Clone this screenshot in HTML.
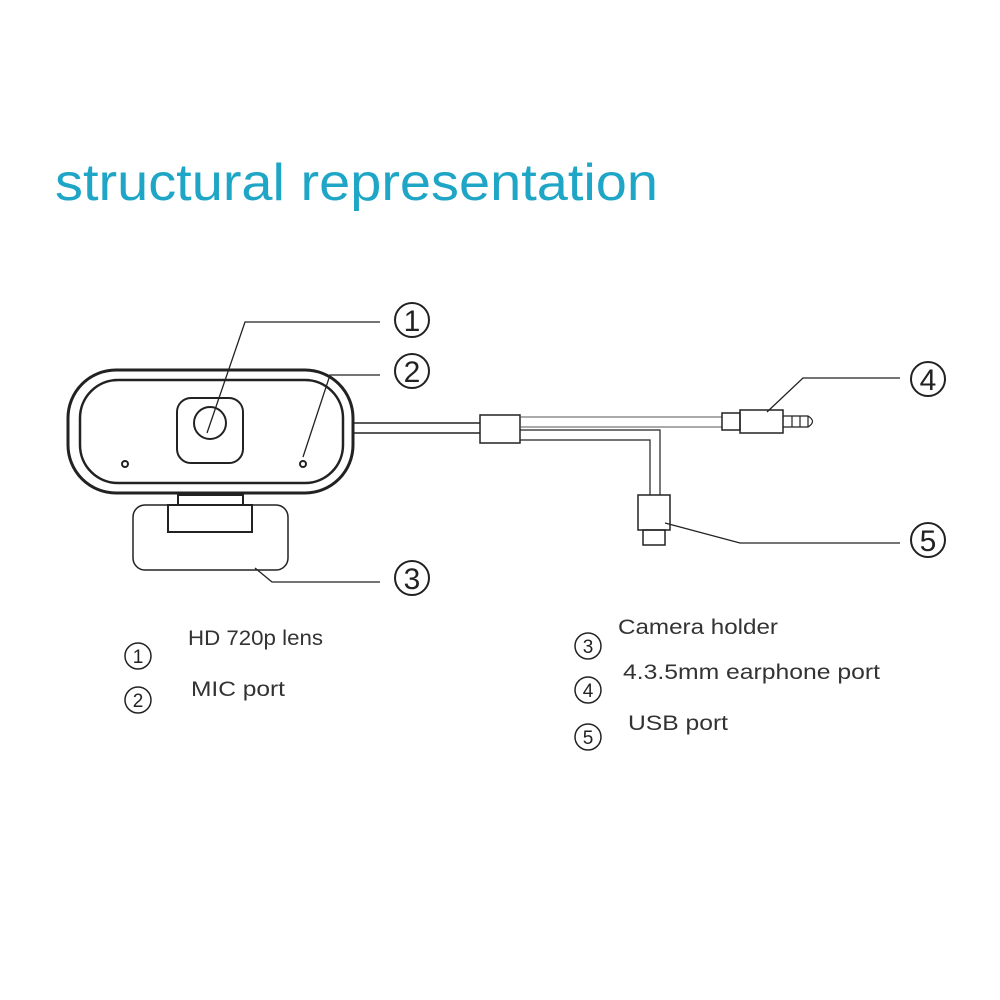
<!DOCTYPE html>
<html><head><style>
html,body{margin:0;padding:0;background:#fff;}
svg{display:block}
</style></head><body>
<svg width="1000" height="1000" viewBox="0 0 1000 1000" xmlns="http://www.w3.org/2000/svg">
<rect width="1000" height="1000" fill="#fff"/>
<text x="55" y="200" font-family="Liberation Sans, sans-serif" font-size="52" fill="#1fa6c6" textLength="603" lengthAdjust="spacingAndGlyphs">structural representation</text>
<g fill="none" stroke="#222" stroke-width="2">
<rect x="68" y="370" width="285" height="123" rx="48" stroke-width="3"/>
<rect x="80" y="380" width="263" height="103" rx="38" stroke-width="2.5"/>
<rect x="177" y="398" width="66" height="65" rx="14"/>
<circle cx="210" cy="423" r="16"/>
<circle cx="125" cy="464" r="3"/>
<circle cx="303" cy="464" r="3"/>
<rect x="178" y="495" width="65" height="10"/>
<rect x="133" y="505" width="155" height="65" rx="12" stroke-width="1.5"/>
<rect x="168" y="505" width="84" height="27" stroke-width="2"/>
<path d="M353 423 H480 M353 433 H480" stroke-width="1.5"/>
<rect x="480" y="415" width="40" height="28" stroke-width="1.5"/>
<path d="M520 417 H722 M520 427 H722" stroke-width="1" stroke="#555"/>
<path d="M520 430 H660 V495 M520 440 H650 V495" stroke-width="1.2"/>
<rect x="722" y="413" width="18" height="17" stroke-width="1.5"/>
<rect x="740" y="410" width="43" height="23" stroke-width="1.5"/>
<path d="M783 416 H808 Q817 421.5 808 427 H783 M792 416 V427 M800 416 V427 M808 416 V427" stroke-width="1.2"/>
<rect x="638" y="495" width="32" height="35" stroke-width="1.5"/>
<rect x="643" y="530" width="22" height="15" stroke-width="1.5"/>
<path d="M207 433 L245 322 H380" stroke-width="1.3"/>
<path d="M303 457 L330 375 H380" stroke-width="1.3"/>
<path d="M255 568 L272 582 H380" stroke-width="1.3"/>
<path d="M767 412 L803 378 H900" stroke-width="1.3"/>
<path d="M665 523 L740 543 H900" stroke-width="1.3"/>
<circle cx="412" cy="320" r="17"/>
<circle cx="412" cy="371" r="17"/>
<circle cx="412" cy="578" r="17"/>
<circle cx="928" cy="379" r="17"/>
<circle cx="928" cy="540" r="17"/>
<circle cx="138" cy="656" r="13" stroke-width="1.5"/>
<circle cx="138" cy="700" r="13" stroke-width="1.5"/>
<circle cx="588" cy="646" r="13" stroke-width="1.5"/>
<circle cx="588" cy="690" r="13" stroke-width="1.5"/>
<circle cx="588" cy="737" r="13" stroke-width="1.5"/>
</g>
<g font-family="Liberation Sans, sans-serif" fill="#222" text-anchor="middle">
<text x="412" y="331" font-size="30">1</text>
<text x="412" y="382" font-size="30">2</text>
<text x="412" y="589" font-size="30">3</text>
<text x="928" y="390" font-size="30">4</text>
<text x="928" y="551" font-size="30">5</text>
<text x="138" y="663" font-size="19">1</text>
<text x="138" y="707" font-size="19">2</text>
<text x="588" y="653" font-size="19">3</text>
<text x="588" y="697" font-size="19">4</text>
<text x="588" y="744" font-size="19">5</text>
</g>
<g font-family="Liberation Sans, sans-serif" fill="#333" font-size="21" lengthAdjust="spacingAndGlyphs">
<text x="188" y="645" textLength="135" lengthAdjust="spacingAndGlyphs">HD 720p lens</text>
<text x="191" y="696" textLength="94" lengthAdjust="spacingAndGlyphs">MIC port</text>
<text x="618" y="634" textLength="160" lengthAdjust="spacingAndGlyphs">Camera holder</text>
<text x="623" y="679" textLength="257" lengthAdjust="spacingAndGlyphs">4.3.5mm earphone port</text>
<text x="628" y="730" textLength="100" lengthAdjust="spacingAndGlyphs">USB port</text>
</g>
</svg>
</body></html>
